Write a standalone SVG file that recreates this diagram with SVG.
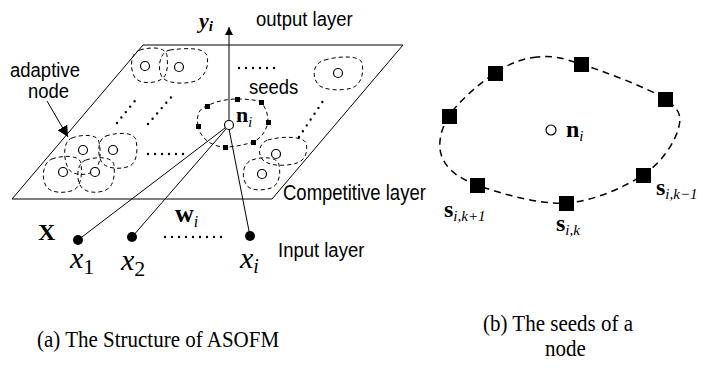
<svg xmlns="http://www.w3.org/2000/svg" width="701" height="370" viewBox="0 0 701 370">
<style>
.sans{font-family:"Liberation Sans",Arial,sans-serif;font-size:18.5px;fill:#000}
.ser{font-family:"Liberation Serif","Times New Roman",serif;fill:#000}
.blob{fill:none;stroke:#000;stroke-width:1;stroke-dasharray:4 3}
.nd{fill:#fff;stroke:#000;stroke-width:1.2}
.dot{fill:none;stroke:#000;stroke-width:2.4;stroke-dasharray:0 7;stroke-linecap:round}
.ln{fill:none;stroke:#000;stroke-width:1}
.seed{fill:#000}
</style>
<defs>
<marker id="ah" viewBox="0 0 10 10" refX="10" refY="5" markerWidth="8" markerHeight="8" markerUnits="userSpaceOnUse" orient="auto">
<path d="M0,0 L10,5 L0,10 Z" fill="#000"/>
</marker>
<marker id="ah2" viewBox="0 0 10 10" refX="10" refY="5" markerWidth="11" markerHeight="11" markerUnits="userSpaceOnUse" orient="auto">
<path d="M0,0 L10,5 L0,10 Z" fill="#000"/>
</marker>
</defs>
<rect width="701" height="370" fill="#fff"/>

<g id="competitive-layer">
<path d="M143,45 L403,45 L272,199 L12,199 Z" class="ln"/>
</g>

<g id="clusters">
<g id="blob-tl1"><path class="blob" d="M140,50 C150,47 166,46 167,56 C168,66 168,76 160,80 C152,84 138,84 134,76 C130,68 130,53 140,50 Z"/><circle class="nd" cx="145" cy="66" r="4.5"/></g>
<g id="blob-tl2"><path class="blob" d="M170,50 C185,48 205,47 207,56 C209,66 206,74 198,80 C190,84 170,85 163,78 C157,72 158,52 170,50 Z"/><circle class="nd" cx="179" cy="67" r="4.5"/></g>
<g id="blob-tr"><path class="blob" d="M325,60 C338,56 360,55 362,63 C364,72 362,84 352,88 C342,91 322,91 317,83 C312,75 313,63 325,60 Z"/><circle class="nd" cx="338" cy="73" r="4.5"/></g>
<g id="blob-bl1"><path class="blob" d="M72,138 C82,134 98,134 99,142 C101,152 101,165 94,171 C87,176 72,176 68,168 C63,158 63,141 72,138 Z"/><circle class="nd" cx="83" cy="150" r="4.5"/></g>
<g id="blob-bl2"><path class="blob" d="M106,136 C118,132 134,132 136,140 C138,150 137,162 130,166 C120,170 105,169 101,161 C97,153 98,139 106,136 Z"/><circle class="nd" cx="113" cy="150" r="4.5"/></g>
<g id="blob-bl3"><path class="blob" d="M52,159 C63,155 79,155 81,163 C82,173 82,185 74,190 C64,194 50,193 46,186 C41,178 43,162 52,159 Z"/><circle class="nd" cx="63" cy="172" r="4.5"/></g>
<g id="blob-bl4"><path class="blob" d="M86,160 C98,156 113,157 114,165 C115,175 114,186 106,190 C97,194 84,193 80,185 C76,177 77,163 86,160 Z"/><circle class="nd" cx="95" cy="172" r="4.5"/></g>
<g id="blob-br1"><path class="blob" d="M268,140 C282,136 303,136 306,143 C308,150 306,160 297,163 C288,166 270,167 263,160 C257,154 259,143 268,140 Z"/><circle class="nd" cx="276" cy="154" r="4.5"/></g>
<g id="blob-br2"><path class="blob" d="M252,160 C263,156 278,157 279,165 C281,174 279,185 271,188 C262,191 249,191 246,184 C241,176 243,163 252,160 Z"/><circle class="nd" cx="262" cy="174" r="4.5"/></g>
</g>

<g id="dots">
<path class="dot" d="M239,68 L279,68"/>
<path class="dot" d="M148,154 L186,154"/>
<path class="dot" d="M117,123 L138,97"/>
<path class="dot" d="M148,124 L173,95"/>
<path class="dot" d="M299,137 L325,98"/>
<path class="dot" d="M165,237 L223,237" stroke-width="2.8" stroke-dasharray="0 11.6"/>
</g>

<g id="node-ni">
<path class="blob" d="M198,126 C196,114 200,108 207,106 C216,101 228,99 237,99 C248,99 256,100 261,102 C266,108 268,114 268,122 C266,132 260,139 253,142 C244,145 234,147 225,147 C212,147 200,138 198,126 Z"/>
<rect class="seed" x="205" y="104" width="5" height="5"/>
<rect class="seed" x="235" y="97" width="5" height="5"/>
<rect class="seed" x="259" y="100" width="5" height="5"/>
<rect class="seed" x="266" y="120" width="5" height="5"/>
<rect class="seed" x="251" y="140" width="5" height="5"/>
<rect class="seed" x="223" y="145" width="5" height="5"/>
<rect class="seed" x="196" y="124" width="5" height="5"/>
<text class="ser" x="236" y="122" font-size="22" font-weight="bold">n<tspan font-size="14" font-weight="normal" font-style="italic" dy="5">i</tspan></text>
</g>

<g id="connectors">
<line class="ln" x1="229" y1="121" x2="229" y2="27" marker-end="url(#ah)"/>
<line class="ln" x1="47" y1="101" x2="68" y2="137" marker-end="url(#ah2)"/>
<line class="ln" x1="78" y1="240" x2="225" y2="128"/>
<line class="ln" x1="132" y1="237" x2="226" y2="129"/>
<line class="ln" x1="250" y1="236" x2="229" y2="129"/>
</g>
<circle class="nd" cx="229" cy="125" r="4.5"/>

<g id="inputs">
<circle cx="78" cy="240" r="5" fill="#000"/>
<circle cx="132" cy="237" r="5" fill="#000"/>
<circle cx="250" cy="236" r="5" fill="#000"/>
<text class="ser" x="38" y="240" font-size="24" font-weight="bold">X</text>
<text class="ser" x="70" y="268" font-size="30" font-style="italic">x<tspan font-size="22" font-style="normal" dy="6">1</tspan></text>
<text class="ser" x="121" y="270" font-size="30" font-style="italic">x<tspan font-size="22" font-style="normal" dy="6">2</tspan></text>
<text class="ser" x="240" y="268" font-size="30" font-style="italic">x<tspan font-size="20" dy="5">i</tspan></text>
<text class="ser" x="175" y="222" font-size="26" font-weight="bold">w<tspan font-size="16" font-weight="normal" font-style="italic" dy="5">i</tspan></text>
</g>

<g id="labels">
<text class="ser" x="199" y="28" font-size="22" font-weight="bold" font-style="italic">y<tspan font-size="15" dy="3">i</tspan></text>
<text class="sans" transform="translate(256,26) scale(1,1.1)">output layer</text>
<text class="sans" transform="translate(249,94) scale(1,1.1)">seeds</text>
<text class="sans" transform="translate(10,77) scale(1,1.1)">adaptive</text>
<text class="sans" transform="translate(28,98) scale(1,1.1)">node</text>
<text class="sans" font-size="17.4" transform="translate(283,200) scale(1,1.15)">Competitive layer</text>
<text class="sans" transform="translate(278,257) scale(1,1.1)">Input layer</text>
</g>

<g id="panel-b">
<path d="M537,57 C522.7,58.5 509.7,63.2 495,73 C480.3,82.8 457.8,102 449,116 C440.2,130 437.3,145.5 442,157 C446.7,168.5 456.3,177.3 477,185 C497.7,192.7 538.3,204.7 566,203 C593.7,201.3 624.3,187.2 643,175 C661.7,162.8 674.3,142.7 678,130 C681.7,117.3 681.2,110 665,99 C648.8,88 602.3,71 581,64 C559.7,57 551.3,55.5 537,57 Z" fill="none" stroke="#000" stroke-width="1.5" stroke-dasharray="7 5"/>
<g fill="#000">
<rect x="488" y="66" width="15" height="15"/>
<rect x="574" y="57" width="15" height="15"/>
<rect x="658" y="92" width="15" height="15"/>
<rect x="442" y="109" width="15" height="15"/>
<rect x="470" y="178" width="15" height="15"/>
<rect x="559" y="196" width="15" height="15"/>
<rect x="636" y="168" width="15" height="15"/>
</g>
<circle cx="551" cy="130" r="5" fill="#fff" stroke="#000" stroke-width="1.2"/>
<text class="ser" x="566" y="137" font-size="24" font-weight="bold">n<tspan font-size="15" font-weight="normal" font-style="italic" dy="4">i</tspan></text>
<text class="ser" x="444" y="217" font-size="24" font-weight="bold">s<tspan font-size="15" font-weight="normal" font-style="italic" dy="4">i,k+1</tspan></text>
<text class="ser" x="556" y="231" font-size="24" font-weight="bold">s<tspan font-size="15" font-weight="normal" font-style="italic" dy="4">i,k</tspan></text>
<text class="ser" x="656" y="195" font-size="24" font-weight="bold">s<tspan font-size="15" font-weight="normal" font-style="italic" dy="4">i,k−1</tspan></text>
</g>

<g id="captions">
<text class="ser" font-size="21" transform="translate(37,347) scale(1,1.08)">(a) The Structure of ASOFM</text>
<text class="ser" font-size="21" transform="translate(483,331) scale(1,1.08)">(b) The seeds of a</text>
<text class="ser" font-size="21" transform="translate(545,356) scale(1,1.08)">node</text>
</g>
</svg>
